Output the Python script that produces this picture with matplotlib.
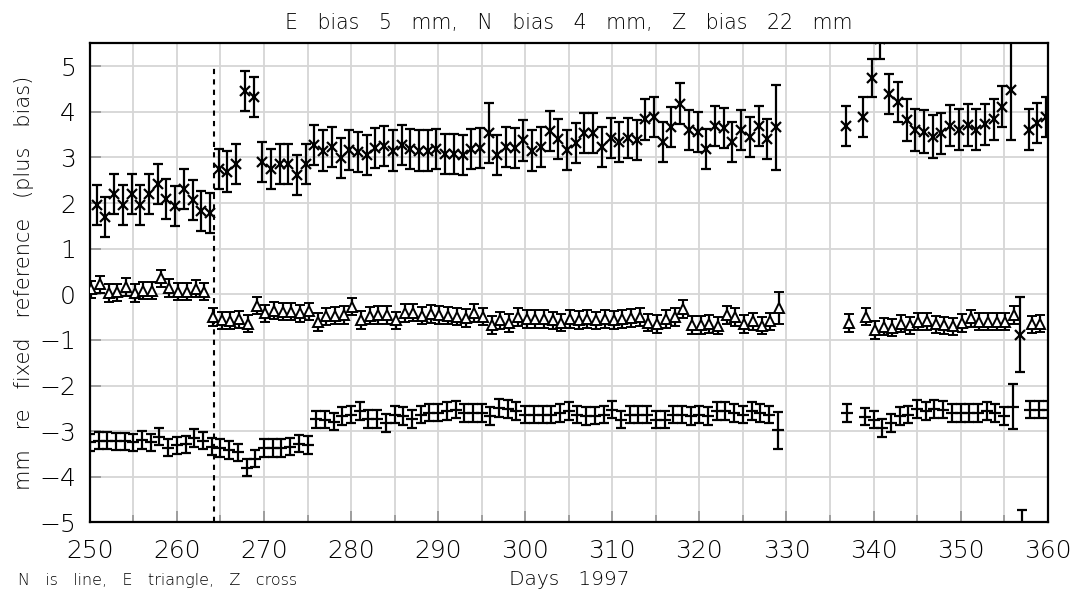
import matplotlib
matplotlib.use("Agg")
import matplotlib.pyplot as plt
from matplotlib.ticker import MultipleLocator

# ---------- Data (day of 1997, mm) ----------
z_days = list(range(251, 330)) + [337] + list(range(339, 361))
z_vals = [1.96, 1.70, 2.20, 1.96, 2.20, 1.96, 2.20, 2.42, 2.08, 1.94,
          2.31, 2.07, 1.83, 1.78, 2.74, 2.69, 2.85, 4.45, 4.33, 2.90,
          2.74, 2.85, 2.85, 2.61, 2.85, 3.27, 3.15, 3.23, 2.98, 3.16,
          3.12, 3.05, 3.20, 3.25, 3.15, 3.27, 3.18, 3.15, 3.15, 3.18,
          3.07, 3.07, 3.05, 3.18, 3.20, 3.53, 3.05, 3.22, 3.20, 3.37,
          3.15, 3.22, 3.58, 3.40, 3.16, 3.31, 3.53, 3.54, 3.23, 3.42,
          3.34, 3.42, 3.38, 3.83, 3.88, 3.34, 3.66, 4.18, 3.60, 3.56,
          3.18, 3.69, 3.64, 3.34, 3.60, 3.44, 3.69, 3.40, 3.66,
          3.69,
          3.88, 4.74, 5.60, 4.39, 4.22, 3.82, 3.60, 3.56, 3.45, 3.53,
          3.69, 3.61, 3.71, 3.61, 3.73, 3.83, 4.11, 4.47, -0.89, 3.61,
          3.75, 3.88]
z_errs = [0.44] * 45 + [0.66] + [0.44] * 32 + [0.93] + [0.44] \
         + [0.44, 0.42, 0.44, 0.44, 0.44, 0.46, 0.47, 0.47, 0.47, 0.45,
            0.45, 0.45, 0.45, 0.45, 0.45, 0.45, 0.45, 1.10, 0.82, 0.44,
            0.44, 0.44]

e_days = list(range(250, 330)) + [337] + list(range(339, 357)) + [358, 359]
e_vals = [0.11, 0.22, 0.03, 0.04, 0.16, 0.03, 0.08, 0.08, 0.35, 0.14,
          0.06, 0.06, 0.12, 0.06, -0.50, -0.57, -0.58, -0.55, -0.64, -0.25,
          -0.42, -0.36, -0.38, -0.38, -0.42, -0.37, -0.61, -0.48, -0.47, -0.45,
          -0.27, -0.56, -0.47, -0.45, -0.45, -0.57, -0.41, -0.40, -0.47, -0.43,
          -0.45, -0.47, -0.49, -0.52, -0.41, -0.49, -0.67, -0.57, -0.63, -0.50,
          -0.54, -0.54, -0.54, -0.57, -0.62, -0.54, -0.56, -0.54, -0.57, -0.54,
          -0.56, -0.54, -0.52, -0.50, -0.62, -0.65, -0.54, -0.50, -0.32, -0.67,
          -0.67, -0.65, -0.69, -0.45, -0.50, -0.65, -0.59, -0.69, -0.59, -0.29,
          -0.63,
          -0.49, -0.78, -0.71, -0.73, -0.64, -0.68, -0.60, -0.59, -0.66, -0.68,
          -0.70, -0.63, -0.53, -0.60, -0.60, -0.60, -0.60, -0.45,
          -0.66, -0.64]
e_errs = [0.19] * 79 + [0.35] + [0.19] * 21

n_days = list(range(250, 330)) + [337] + list(range(339, 361))
n_vals = [-3.24, -3.21, -3.21, -3.22, -3.22, -3.24, -3.19, -3.24, -3.12, -3.36,
          -3.31, -3.29, -3.15, -3.21, -3.34, -3.37, -3.41, -3.46, -3.80, -3.60,
          -3.37, -3.37, -3.37, -3.34, -3.27, -3.30, -2.74, -2.75, -2.79, -2.67,
          -2.64, -2.56, -2.73, -2.73, -2.82, -2.64, -2.67, -2.73, -2.64, -2.59,
          -2.59, -2.56, -2.53, -2.60, -2.60, -2.60, -2.67, -2.49, -2.51, -2.56,
          -2.64, -2.64, -2.64, -2.64, -2.60, -2.56, -2.64, -2.67, -2.66, -2.64,
          -2.53, -2.75, -2.64, -2.64, -2.64, -2.75, -2.75, -2.64, -2.64, -2.67,
          -2.64, -2.67, -2.56, -2.56, -2.60, -2.64, -2.56, -2.60, -2.64, -2.98,
          -2.60,
          -2.68, -2.75, -2.93, -2.82, -2.67, -2.64, -2.51, -2.56, -2.51, -2.53,
          -2.60, -2.60, -2.60, -2.60, -2.56, -2.60, -2.67, -2.46, -5.20, -2.53,
          -2.53, -2.53]
n_errs = [0.19] * 79 + [0.41] + [0.19] * 18 + [0.50, 0.48] + [0.19] * 3

break_day = 264.3

# small time-of-day offsets of each series inside the day
e_off, n_off, z_off = 0.15, 0.0, -0.2

plt.rcParams['font.family'] = ['DejaVu Sans']

fig = plt.figure(figsize=(10.73, 5.92), dpi=100)
ax = fig.add_axes([0.0837, 0.1174, 0.8927, 0.8095])

eb = dict(color="black", ecolor="black", elinewidth=1.6, capsize=3.8,
          capthick=1.6, linestyle="none", zorder=3)
ax.errorbar([d + e_off for d in e_days], e_vals, yerr=e_errs, marker="^",
            markersize=7.5, markerfacecolor="white", markeredgewidth=1.4, **eb)
ax.errorbar([d + n_off for d in n_days], n_vals, yerr=n_errs, marker="_",
            markersize=8, markeredgewidth=1.6, **eb)
ax.errorbar([d + z_off for d in z_days], z_vals, yerr=z_errs, marker="x",
            markersize=7, markeredgewidth=1.6, **eb)

ax.plot([break_day, break_day], [-5, 5], color="black", lw=1.5,
        linestyle=(0, (2.5, 2.5)), zorder=2)

ax.set_xlim(250, 360)
ax.set_ylim(-5, 5.5)
ax.xaxis.set_major_locator(MultipleLocator(10))
ax.xaxis.set_minor_locator(MultipleLocator(5))
ax.yaxis.set_major_locator(MultipleLocator(1))
ax.grid(True, which="both", color="#d6d6d6", lw=1.3, zorder=0)
ax.set_axisbelow(True)
ax.tick_params(which="major", direction="in", length=8, width=1.3,
               color="#999999", labelsize=18, top=False, right=False)
ax.tick_params(axis="x", which="major", pad=12)
ax.tick_params(axis="y", which="major", pad=10)
ax.tick_params(which="minor", direction="in", length=5, width=1.3,
               color="#999999")
for lab in ax.get_xticklabels() + ax.get_yticklabels():
    lab.set_fontweight("light")
for s in ax.spines.values():
    s.set_linewidth(1.6)

ax.set_title("E   bias   5   mm,   N   bias   4   mm,   Z   bias   22   mm",
             fontsize=14.8, fontweight="light", pad=10)
ax.set_xlabel("Days   1997", fontsize=14.5, fontweight="light", labelpad=5)
ax.set_ylabel("mm   re   fixed   reference   (plus   bias)", fontsize=15,
              fontweight="light")
ax.yaxis.set_label_coords(-0.058, 0.5)
fig.text(0.017, 0.012, "N   is   line,   E   triangle,   Z   cross",
         fontsize=11.5, fontweight="light")

fig.savefig("out.png", dpi=100)
